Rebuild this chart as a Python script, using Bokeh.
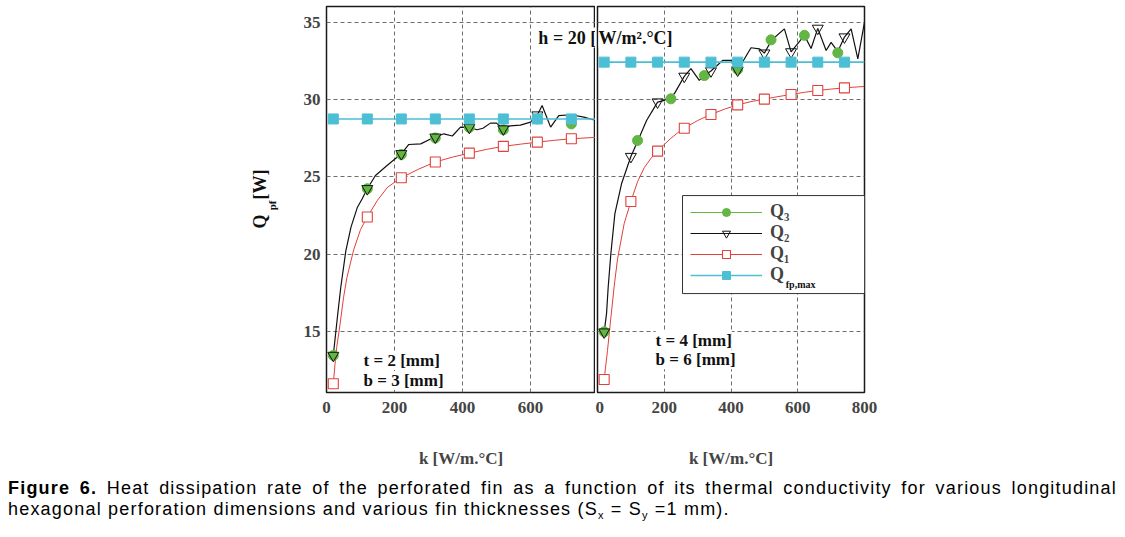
import numpy as np
from bokeh.plotting import figure
from bokeh.models import Range1d, FixedTicker, Label, Legend, LegendItem, Div, BoxAnnotation
from bokeh.layouts import row, column
from bokeh.embed import file_html
from bokeh.resources import INLINE

# ---------------- data ----------------
# Left panel: t = 2 mm, b = 3 mm
k_q1_a = [20, 25, 30, 40, 50, 60, 80, 100, 120, 150, 180, 220, 270, 320, 370, 420, 470, 520, 570, 620, 670, 720, 800]
q1_a = [11.64, 12.9, 14.0, 15.5, 17.2, 18.5, 20.3, 21.6, 22.42, 23.5, 24.35, 24.95, 25.5, 25.97, 26.28, 26.54,
        26.78, 26.98, 27.12, 27.25, 27.37, 27.47, 27.57]
q1_a_marks = [20, 120, 220, 320, 420, 520, 620, 720]

k_q2_a = [20, 32, 42, 57, 72, 91, 105, 120, 144, 178, 220, 242, 277, 306, 320, 345, 370, 394, 420, 443, 460,
          482, 500, 520, 540, 570, 600, 620, 634, 659, 683, 720, 757, 784, 800]
q2_a = [13.47, 15.94, 17.88, 20.25, 21.76, 23.05, 23.6, 24.24, 25.1, 25.74, 26.5, 27.1, 27.14, 27.46, 27.57,
        27.79, 27.65, 28.22, 28.2, 28.05, 28.15, 28.48, 28.48, 28.1, 28.3, 28.35, 28.54, 29.0, 29.62, 28.22,
        28.97, 29.02, 28.87, 28.7, 28.97]
q2_a_marks = [20, 120, 220, 320, 420, 520, 620]

k_q3_a = [20, 120, 220, 320, 420, 520, 620, 720]
q3_a = [13.47, 24.24, 26.45, 27.52, 28.2, 28.05, 28.75, 28.43]

k_qfp_a = [20, 120, 220, 320, 420, 520, 620, 720, 800]
qfp_a = [28.75, 28.75, 28.75, 28.75, 28.75, 28.75, 28.75, 28.75, 28.75]
qfp_a_marks = [20, 120, 220, 320, 420, 520, 620, 720]

# Right panel: t = 4 mm, b = 6 mm
k_q1_b = [20, 30, 40, 50, 60, 80, 100, 120, 140, 160, 180, 200, 220, 240, 260, 300, 340, 380, 420, 460, 500,
          540, 580, 620, 660, 700, 740, 780, 800]
q1_b = [11.92, 13.8, 15.9, 17.95, 19.7, 22.0, 23.42, 24.7, 25.6, 26.2, 26.67, 27.1, 27.5, 27.85, 28.15, 28.65,
        29.04, 29.38, 29.66, 29.87, 30.03, 30.19, 30.33, 30.47, 30.59, 30.68, 30.76, 30.82, 30.85]
q1_b_marks = [20, 100, 180, 260, 340, 420, 500, 580, 660, 740]

k_q2_b = [20, 27, 32, 40, 52, 72, 100, 120, 147, 180, 200, 230, 260, 280, 305, 320, 340, 375, 400, 420, 460,
          485, 500, 522, 560, 580, 620, 640, 660, 685, 700, 720, 740, 760, 780, 800]
q2_b = [14.98, 16.16, 17.88, 20.04, 22.62, 24.56, 26.32, 27.3, 28.65, 29.84, 29.95, 30.37, 31.5, 32.0, 31.24,
        31.55, 31.85, 32.53, 32.53, 31.9, 33.35, 33.28, 33.0, 33.85, 34.57, 33.08, 34.15, 33.3, 34.6, 33.17,
        33.7, 33.1, 34.04, 34.57, 32.63, 35.0]
q2_b_marks = [20, 100, 180, 260, 340, 420, 500, 580, 660, 740]

k_q3_b = [20, 120, 220, 320, 420, 520, 620, 720]
q3_b = [15.0, 27.36, 30.05, 31.55, 31.95, 33.86, 34.15, 33.02]

k_qfp_b = [20, 100, 180, 260, 340, 420, 500, 580, 660, 740, 800]
qfp_b = [32.42, 32.42, 32.42, 32.42, 32.42, 32.42, 32.42, 32.42, 32.42, 32.42, 32.42]
qfp_b_marks = [20, 100, 180, 260, 340, 420, 500, 580, 660, 740]

y_ticks = [15, 20, 25, 30, 35]
x_ticks_a = [0, 200, 400, 600]
x_ticks_b = [0, 200, 400, 600, 800]

x_title = "k [W/m.°C]"
caption_bold = "Figure 6."
caption_line1 = ("Heat dissipation rate of the perforated fin as a function of its thermal "
                 "conductivity for various longitudinal")
caption_line2 = "hexagonal perforation dimensions and various fin thicknesses (S"

# ---------------- styling ----------------
SERIF = "Liberation Serif"
GREEN = "#63b544"
CYAN = "#4cbfd4"
RED = "#e0413b"
BLACK = "#111111"
Y_LO, Y_HI = 11.079, 36.014
TOP, FRAME_H, BOTTOM = 6, 386, 86


def make_fig(x_end, frame_w, min_left, min_right, xticks, show_y):
    p = figure(x_range=Range1d(0, x_end), y_range=Range1d(Y_LO, Y_HI),
               frame_width=frame_w, frame_height=FRAME_H,
               min_border_left=min_left, min_border_right=min_right,
               min_border_top=TOP, min_border_bottom=BOTTOM,
               toolbar_location=None, output_backend="svg",
               y_axis_location="left" if show_y else None)
    p.outline_line_color = "#1a1a1a"
    p.outline_line_width = 1.5
    p.background_fill_color = "white"
    p.border_fill_color = "white"
    for ax in p.xaxis:
        ax.ticker = FixedTicker(ticks=xticks)
        ax.axis_label = x_title
        ax.axis_label_text_font = SERIF
        ax.axis_label_text_font_style = "bold"
        ax.axis_label_text_font_size = "17px"
        ax.axis_label_standoff = 33
    for ax in p.yaxis:
        ax.ticker = FixedTicker(ticks=y_ticks)
    for ax in list(p.xaxis) + list(p.yaxis):
        ax.major_label_text_font = SERIF
        ax.major_label_text_font_style = "bold"
        ax.major_label_text_font_size = "17px"
        ax.major_tick_out = 0
        ax.major_tick_in = 0
        ax.minor_tick_out = 0
        ax.minor_tick_in = 0
        ax.axis_line_color = None
    for ax in p.xaxis:
        ax.major_label_standoff = 9
    for ax in p.yaxis:
        ax.major_label_standoff = 6
    p.xgrid.ticker = FixedTicker(ticks=xticks)
    p.ygrid.ticker = FixedTicker(ticks=y_ticks)
    for g in list(p.xgrid) + list(p.ygrid):
        g.grid_line_color = "#6e6e6e"
        g.grid_line_dash = "4 3"
        g.grid_line_width = 1
    return p


def draw_panel(p, k1, q1, m1, k2, q2, m2, k3, q3, kf, qf, mf):
    k1 = np.array(k1); q1 = np.array(q1)
    k2 = np.array(k2); q2 = np.array(q2)
    kf = np.array(kf); qf = np.array(qf)
    r1l = p.line(k1, q1, line_color=RED, line_width=1)
    s1 = np.isin(k1, m1)
    r1m = p.scatter(k1[s1], q1[s1], marker="square", size=10, line_color=RED, line_width=1.1,
                    fill_color="white")
    r2l = p.line(k2, q2, line_color=BLACK, line_width=1.2)
    r3m = p.scatter(k3, q3, marker="circle", size=10, fill_color=GREEN, line_color=GREEN)
    r3l = p.line(k3, q3, line_color=GREEN, line_width=1.2, visible=False)
    s2 = np.isin(k2, m2)
    r2m = p.scatter(k2[s2], q2[s2], marker="inverted_triangle", size=11, line_color=BLACK,
                    line_width=1, fill_color=None)
    rfl = p.line(kf, qf, line_color=CYAN, line_width=1.6)
    sf = np.isin(kf, mf)
    rfm = p.scatter(kf[sf], qf[sf], marker="square", size=10, fill_color=CYAN, line_color=CYAN)
    return (r3l, r3m), (r2l, r2m), (r1l, r1m), (rfl, rfm)


def txt(p, x, y, s, size="17px", align="left", baseline="alphabetic", angle=0.0, bg="white"):
    p.add_layout(Label(x=x, y=y, text=s, text_font=SERIF, text_font_style="bold",
                       text_font_size=size, text_align=align, text_baseline=baseline,
                       angle=angle, background_fill_color=bg, text_color="#111111"))


# ---------------- y-axis title strip ----------------
YL_W = 290
py = figure(x_range=Range1d(0, YL_W), y_range=Range1d(Y_LO, Y_HI),
            frame_width=YL_W, frame_height=FRAME_H,
            min_border_left=0, min_border_right=0, min_border_top=TOP, min_border_bottom=BOTTOM,
            toolbar_location=None, output_backend="svg",
            x_axis_location=None, y_axis_location=None)
py.outline_line_color = None
py.xgrid.visible = False
py.ygrid.visible = False
txt(py, 259, 22.13, "Q", size="18px", align="center", baseline="middle", angle=np.pi / 2, bg=None)
txt(py, 271, 23.16, "pf", size="11px", align="center", baseline="middle", angle=np.pi / 2, bg=None)
txt(py, 259, 24.51, "[W]", size="18px", align="center", baseline="middle", angle=np.pi / 2, bg=None)

# ---------------- left panel ----------------
pa = make_fig(791, 269, 326 - YL_W, 0, x_ticks_a, True)
draw_panel(pa, k_q1_a, q1_a, q1_a_marks, k_q2_a, q2_a, q2_a_marks, k_q3_a, q3_a,
           k_qfp_a, qfp_a, qfp_a_marks)
txt(pa, 109, 13.15, "t = 2 [mm]")
txt(pa, 109, 11.85, "b = 3 [mm]")
txt(pa, 623, 34.01, "h = 20 [", size="18px")

# ---------------- right panel ----------------
pb = make_fig(800, 267, 2, 30, x_ticks_b, False)
g3, g2, g1, gf = draw_panel(pb, k_q1_b, q1_b, q1_b_marks, k_q2_b, q2_b, q2_b_marks, k_q3_b, q3_b,
                            k_qfp_b, qfp_b, qfp_b_marks)
txt(pb, 174, 14.44, "t = 4 [mm]")
txt(pb, 174, 13.19, "b = 6 [mm]")
txt(pb, 3, 34.01, "W/m².°C]", size="18px")

# legend frame (white box) drawn beneath a transparent Bokeh legend
pb.add_layout(BoxAnnotation(left=254.7, right=800, bottom=17.47, top=23.8,
                            fill_color="white", fill_alpha=1.0,
                            line_color="#333333", line_width=1, line_alpha=1.0))
legend = Legend(items=[LegendItem(label="Q₃", renderers=list(g3)),
                       LegendItem(label="Q₂", renderers=list(g2)),
                       LegendItem(label="Q₁", renderers=list(g1)),
                       LegendItem(label="Q", renderers=list(gf))],
                location=(93, 107), orientation="vertical",
                label_text_font=SERIF, label_text_font_style="bold", label_text_font_size="18px",
                label_height=20, glyph_height=20, glyph_width=72, label_standoff=8, label_width=82,
                padding=9, spacing=0, margin=0, border_line_color=None,
                background_fill_alpha=0.0)
pb.add_layout(legend)
txt(pb, 564, 18.06, "fp,max", size="10px", bg=None)

caption_html = (
    '<div style="width:1109px;font-family:\'Liberation Sans\',Arial,sans-serif;font-size:18px;'
    'line-height:21px;letter-spacing:1.2px;color:#000;">'
    '<div style="text-align:justify;text-align-last:justify;">'
    f'<b>{caption_bold}</b> {caption_line1}</div>'
    f'<div>{caption_line2}<span style="font-size:11px;position:relative;top:4px;">x</span> = S'
    '<span style="font-size:11px;position:relative;top:4px;">y</span> =1 mm).</div></div>')
caption = Div(text=caption_html, width=1109, margin=(0, 0, 0, 8))

layout = column(row(py, pa, pb), caption)
open("out.html", "w").write(file_html(layout, INLINE))
